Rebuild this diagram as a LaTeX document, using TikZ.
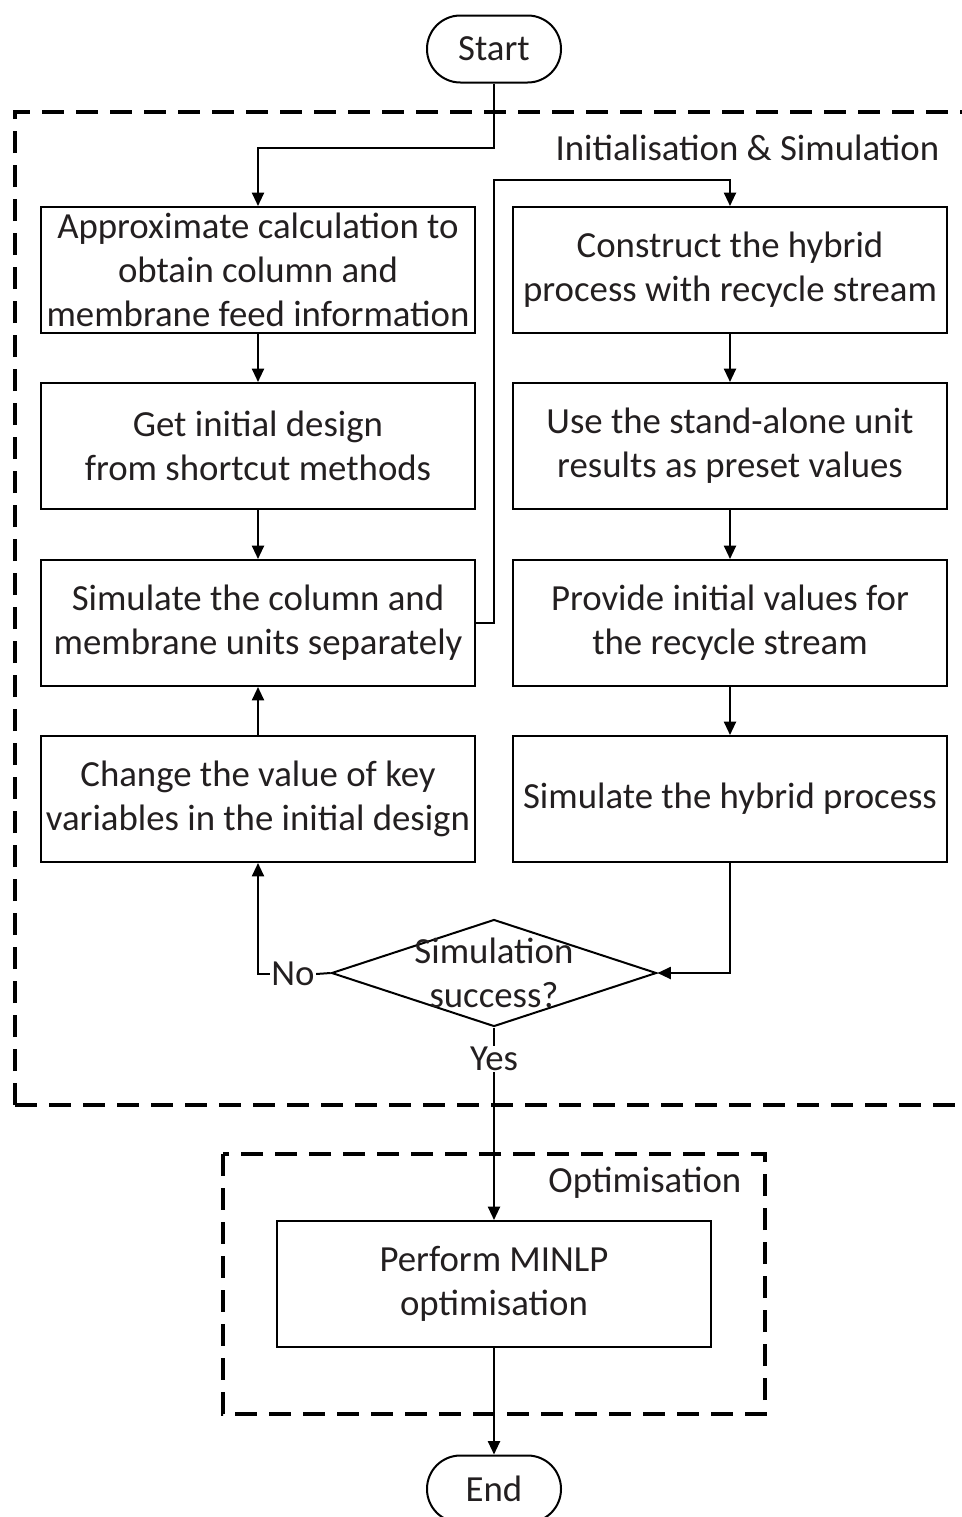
\documentclass[tikz,border=0pt]{standalone}
\usepackage{fontspec}
\setmainfont{Carlito}
\usetikzlibrary{shapes.geometric,arrows.meta}
\definecolor{ink}{HTML}{231F20}
\begin{document}
\begin{tikzpicture}[x=0.75pt,y=-0.75pt,
  every node/.style={font=\fontsize{27.6}{33}\selectfont, text=ink, align=center},
  stepbox/.style={draw, line width=1.5pt, minimum width=325.5pt, minimum height=94.5pt, inner sep=2pt},
  term/.style={draw, line width=1.5pt, rounded corners=25pt, minimum width=100.5pt, minimum height=50.25pt},
  conn/.style={line width=1.5pt},
  arr/.style={conn, -{Triangle[length=10pt,width=9pt]}},
  frame/.style={dashed, dash pattern=on 16.5pt off 9pt, line width=2.6pt},
  lbl/.style={fill=white, inner sep=1pt}]
\useasboundingbox (0,0) rectangle (962,1517);

% dashed group frames
\draw[frame] (15,1105) -- (15,112) -- (975,112);
\draw[frame] (15,1105) -- (975,1105);
\draw[frame] (223,1154) rectangle (765,1414);
\node[anchor=east] (initlbl) at (944,148) {Initialisation \& Simulation};
\node[anchor=east] (optlbl) at (746,1183) {Optimisation};

% terminals
\node[term] (start) at (494,49) {Start};
\node[term] (end) at (494,1489) {End};

% left column
\node[stepbox] (b1) at (258,270) {Approximate calculation to\\obtain column and\\membrane feed information};
\node[stepbox] (b2) at (258,446) {Get initial design\\from shortcut methods};
\node[stepbox] (b3) at (258,623) {Simulate the column and\\membrane units separately};
\node[stepbox] (b4) at (258,799) {Change the value of key\\variables in the initial design};

% right column
\node[stepbox] (b5) at (730,270) {Construct the hybrid\\process with recycle stream};
\node[stepbox] (b6) at (730,446) {Use the stand-alone unit\\results as preset values};
\node[stepbox] (b7) at (730,623) {Provide initial values for\\the recycle stream};
\node[stepbox] (b8) at (730,799) {Simulate the hybrid process};

% decision
\node[draw, diamond, line width=1.5pt, minimum width=243.75pt, minimum height=80.25pt, inner sep=0pt] (dia) at (494,973) {};
\node (diatext) at (494,973) {Simulation\\success?};

% optimisation
\node[stepbox] (b9) at (494,1284) {Perform MINLP\\optimisation};

% connectors
\coordinate (s1) at (494,148);
\coordinate (s2) at (258,148);
\draw[arr] (start.south) -- (s1) -- (s2) -- (b1.north);
\draw[arr] (b1) -- (b2);
\draw[arr] (b2) -- (b3);
\draw[arr] (b4) -- (b3);
\coordinate (r1) at (494,623);
\coordinate (r2) at (494,180);
\coordinate (r3) at (730,180);
\draw[arr] (b3.east) -- (r1) -- (r2) -- (r3) -- (b5.north);
\draw[arr] (b5) -- (b6);
\draw[arr] (b6) -- (b7);
\draw[arr] (b7) -- (b8);
\draw[arr] (b8.south) |- (dia.east);
\node[inner sep=1pt] (no) at (293,974) {No};
\draw[conn] (dia.west) -- (no.east);
\draw[arr] (no.west) -| (b4.south);
\draw[arr] (dia.south) -- (b9.north);
\node[lbl] (yes) at (494,1059) {Yes};
\draw[arr] (b9.south) -- (end.north);
\end{tikzpicture}
\end{document}
